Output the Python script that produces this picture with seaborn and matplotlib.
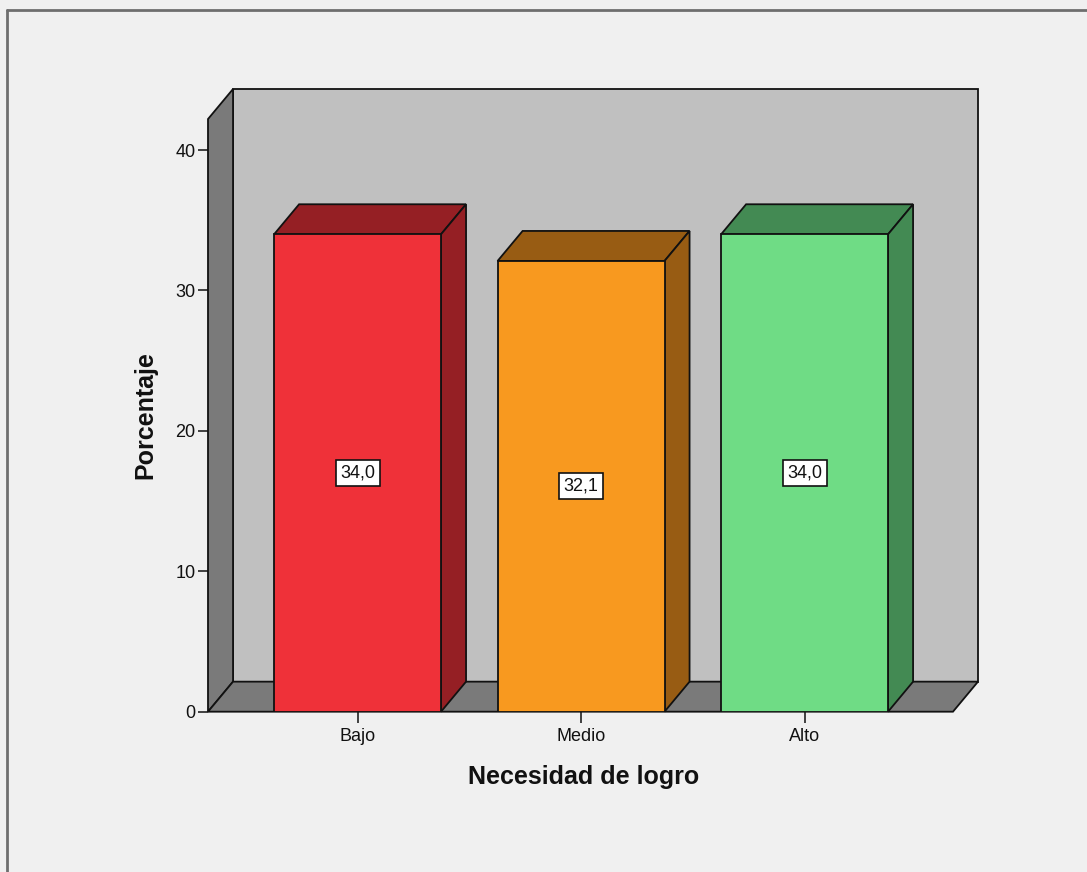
import matplotlib
matplotlib.use("Agg")
import matplotlib.pyplot as plt
from matplotlib.patches import Polygon
from matplotlib.lines import Line2D
import seaborn as sns
import pandas as pd

# Data
categories = ["Bajo", "Medio", "Alto"]
percentages = [34.0, 32.1, 34.0]
value_labels = ["34,0", "32,1", "34,0"]
y_ticks = [0, 10, 20, 30, 40]

# Styling
front_colors = ["#EF3139", "#F8991F", "#6FDC85"]
shade_colors = ["#951F24", "#985C13", "#438A53"]
wall_color = "#C0C0C0"
side_color = "#7A7A7A"
bg_color = "#F0F0F0"

W, H, DPI = 1087, 872, 100
sns.set_theme(style="white")
plt.rcParams["font.family"] = ["Liberation Sans", "DejaVu Sans"]

fig = plt.figure(figsize=(W / DPI, H / DPI), dpi=DPI, facecolor=bg_color)

# plot area in pixels (front plane left/bottom, back wall right/top)
px_left, px_right, px_bottom, px_top = 208, 978, 711.7, 89
ax = fig.add_axes([px_left / W, 1 - px_bottom / H,
                   (px_right - px_left) / W, (px_bottom - px_top) / H])
ax.set_facecolor("none")

df = pd.DataFrame({"cat": categories, "pct": percentages})
sns.barplot(data=df, x="cat", y="pct", hue="cat", palette=front_colors,
            width=0.747, legend=False, edgecolor="#111111", linewidth=1.3,
            saturation=1, ax=ax, zorder=4)

x_left, x_right = -0.669, 2.776
y_top = 44.35
dx, dy = 0.112, 2.14  # depth offset of the 3D effect, in data units
ax.set_xlim(x_left, x_right)
ax.set_ylim(0, y_top)

edge_kw = dict(edgecolor="#111111", linewidth=1.3, clip_on=False,
               joinstyle="miter")

# back wall, left wall and floor
ax.add_patch(Polygon([(x_left + dx, dy), (x_right, dy), (x_right, y_top),
                      (x_left + dx, y_top)], closed=True, facecolor=wall_color,
                     zorder=0, **edge_kw))
ax.add_patch(Polygon([(x_left, 0), (x_left, y_top - dy), (x_left + dx, y_top),
                      (x_left + dx, dy)], closed=True, facecolor=side_color,
                     zorder=1, **edge_kw))
ax.add_patch(Polygon([(x_left, 0), (x_right - dx, 0), (x_right, dy),
                      (x_left + dx, dy)], closed=True, facecolor=side_color,
                     zorder=1, **edge_kw))

# top and side faces of each bar, with the value label
for patch, shade, lab in zip(ax.patches[:len(categories)], shade_colors, value_labels):
    x0 = patch.get_x()
    w = patch.get_width()
    h = patch.get_height()
    x1 = x0 + w
    ax.add_patch(Polygon([(x0, h), (x1, h), (x1 + dx, h + dy), (x0 + dx, h + dy)],
                         closed=True, facecolor=shade, zorder=3, **edge_kw))
    ax.add_patch(Polygon([(x1, 0), (x1 + dx, dy), (x1 + dx, h + dy), (x1, h)],
                         closed=True, facecolor=shade, zorder=3, **edge_kw))
    ax.text(x0 + w / 2, h / 2, lab, ha="center", va="center", fontsize=13,
            color="#111111", zorder=6,
            bbox=dict(boxstyle="square,pad=0.25", facecolor="white",
                      edgecolor="#111111", linewidth=1.2))

for s in ax.spines.values():
    s.set_visible(False)

ax.set_yticks(y_ticks)
ax.set_yticklabels([str(t) for t in y_ticks])
ax.tick_params(axis="y", which="both", left=True, length=7.5, width=1.2,
               color="#222222", labelsize=13, labelcolor="#111111", pad=1.5)
ax.tick_params(axis="x", which="both", bottom=True, length=8, width=1.2,
               color="#222222", labelsize=13, labelcolor="#111111", pad=4)

ax.set_xlabel("")
ax.set_ylabel("")
fig.text(584 / W, 1 - 777 / H, "Necesidad de logro", ha="center", va="center",
         fontsize=18, fontweight="bold", color="#111111")
fig.text(145 / W, 1 - 415 / H, "Porcentaje", ha="center", va="center",
         rotation=90, fontsize=18, fontweight="bold", color="#111111")

# outer chart frame
fig.add_artist(Line2D([7 / W, 1.01], [1 - 10 / H, 1 - 10 / H],
                      transform=fig.transFigure, color="#6E6E6E", linewidth=2))
fig.add_artist(Line2D([7 / W, 7 / W], [1 - 10 / H, -0.01],
                      transform=fig.transFigure, color="#6E6E6E", linewidth=2))

fig.savefig("out.png", dpi=DPI, facecolor=bg_color)
